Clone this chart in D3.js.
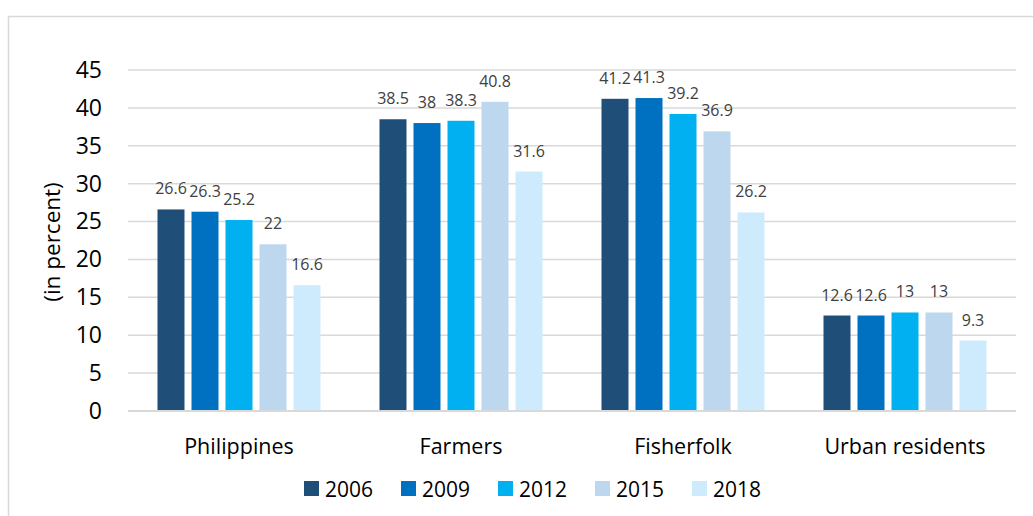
<!DOCTYPE html>
<html>
<head>
<meta charset="utf-8">
<script src="https://cdn.jsdelivr.net/npm/d3@7"></script>
<style>
  body { margin: 0; background: #fff; }
  svg { display: block; font-family: "Open Sans", Lato, sans-serif; }
</style>
</head>
<body>
<svg id="chart" width="1033" height="516"></svg>
<script>
const categories = ["Philippines", "Farmers", "Fisherfolk", "Urban residents"];
const years = ["2006", "2009", "2012", "2015", "2018"];
const values2006 = [26.6, 38.5, 41.2, 12.6];
const values2009 = [26.3, 38, 41.3, 12.6];
const values2012 = [25.2, 38.3, 39.2, 13];
const values2015 = [22, 40.8, 36.9, 13];
const values2018 = [16.6, 31.6, 26.2, 9.3];
const yTicks = [0, 5, 10, 15, 20, 25, 30, 35, 40, 45];

const series = [values2006, values2009, values2012, values2015, values2018];
const colors = d3.scaleOrdinal(years, ["#1f4e79", "#0070c0", "#00b0f0", "#bdd7ee", "#cdebfd"]);

const svg = d3.select("#chart");

// outer frame (only top and left edges are visible)
svg.append("rect")
  .attr("x", 8.5).attr("y", 16.5)
  .attr("width", 1100).attr("height", 600)
  .attr("fill", "none").attr("stroke", "#d9d9d9").attr("stroke-width", 1.5);

const plot = { left: 128, right: 1016, top: 70, bottom: 411 };

const y = d3.scaleLinear().domain([0, 45]).range([plot.bottom, plot.top]);
const x0 = d3.scaleBand().domain(categories).range([plot.left, plot.right]);
const x1 = d3.scaleBand().domain(years)
  .range([29.5, x0.bandwidth() - 29.5])
  .paddingInner(0.206);

// gridlines
svg.append("g").selectAll("line")
  .data(yTicks)
  .enter().append("line")
  .attr("x1", plot.left).attr("x2", plot.right)
  .attr("y1", (d) => y(d)).attr("y2", (d) => y(d))
  .attr("stroke", "#d9d9d9").attr("stroke-width", 1.5);

// y axis labels
const yAxis = svg.append("g")
  .attr("transform", `translate(${plot.left - 26},0)`)
  .call(d3.axisLeft(y).tickValues(yTicks).tickSize(0).tickPadding(0));
yAxis.select(".domain").remove();
yAxis.selectAll("text")
  .attr("font-size", 23).attr("fill", "#000").attr("font-family", "Open Sans, sans-serif");

svg.append("text")
  .attr("transform", "translate(60,242) rotate(-90)")
  .attr("text-anchor", "middle")
  .attr("font-size", 22.5)
  .text("(in percent)");

// bars
const groups = svg.append("g").selectAll("g")
  .data(categories)
  .enter().append("g")
  .attr("transform", (d) => `translate(${x0(d)},0)`);

const cells = groups.selectAll("g")
  .data((c, i) => years.map((yr, j) => ({ year: yr, value: series[j][i] })))
  .enter().append("g");

cells.append("rect")
  .attr("x", (d) => x1(d.year))
  .attr("width", x1.bandwidth())
  .attr("y", (d) => y(d.value))
  .attr("height", (d) => y(0) - y(d.value))
  .attr("fill", (d) => colors(d.year));

cells.append("text")
  .attr("x", (d) => x1(d.year) + x1.bandwidth() / 2)
  .attr("y", (d) => y(d.value) - 15)
  .attr("text-anchor", "middle")
  .attr("font-size", 16)
  .attr("fill", "#404040")
  .text((d) => d.value);

// baseline
svg.append("line")
  .attr("x1", plot.left).attr("x2", plot.right)
  .attr("y1", y(0)).attr("y2", y(0))
  .attr("stroke", "#d9d9d9").attr("stroke-width", 2);

// category labels
svg.append("g").selectAll("text")
  .data(categories)
  .enter().append("text")
  .attr("x", (d) => x0(d) + x0.bandwidth() / 2)
  .attr("y", 454)
  .attr("text-anchor", "middle")
  .attr("font-size", 21.5)
  .attr("fill", "#000")
  .text((d) => d);

// legend
const legend = svg.append("g").selectAll("g")
  .data(years)
  .enter().append("g")
  .attr("transform", (d, i) => `translate(${304 + i * 97},481)`);

legend.append("rect")
  .attr("width", 15).attr("height", 15)
  .attr("fill", (d) => colors(d));

legend.append("text")
  .attr("x", 21).attr("y", 16)
  .attr("font-size", 21)
  .attr("fill", "#000")
  .text((d) => d);
</script>
</body>
</html>
